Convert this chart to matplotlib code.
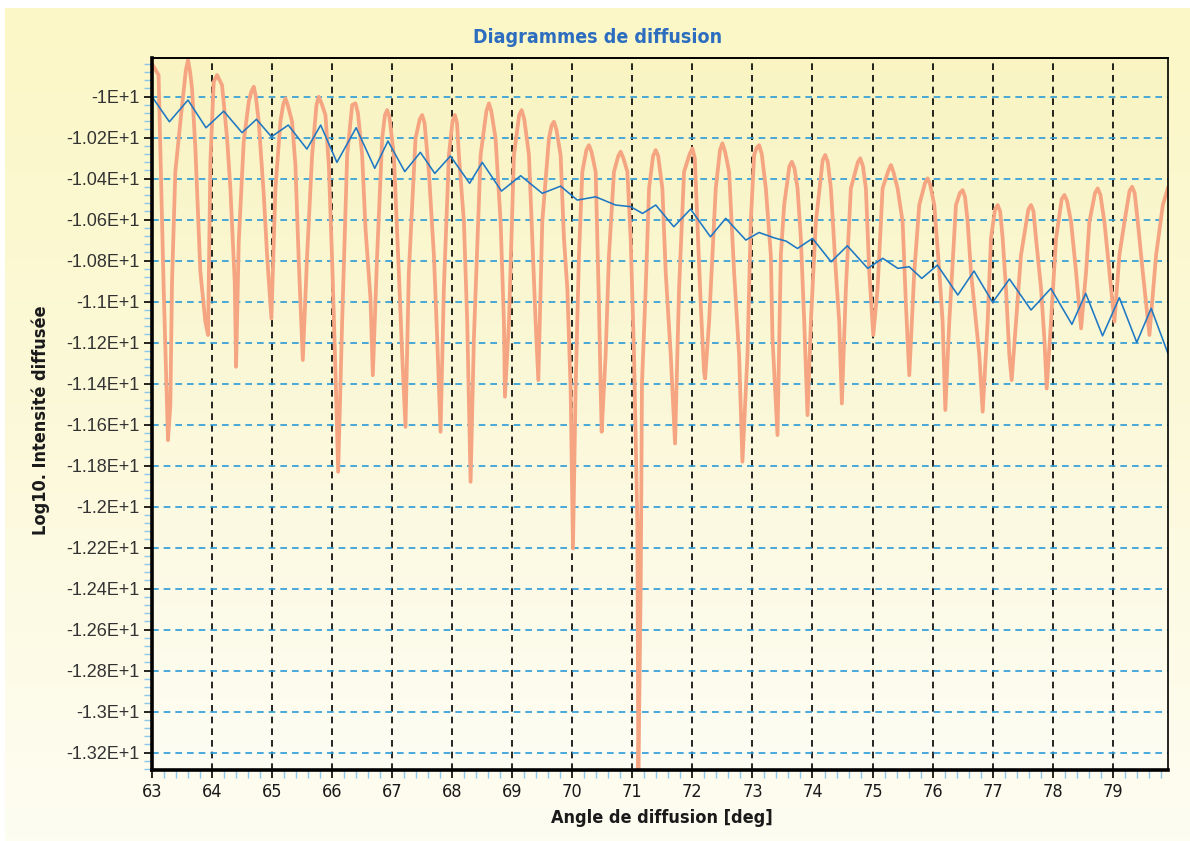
import numpy as np
import matplotlib
matplotlib.use("Agg")
import matplotlib.pyplot as plt
from matplotlib.colors import LinearSegmentedColormap
from matplotlib.ticker import MultipleLocator, FixedLocator, FixedFormatter
from matplotlib import font_manager as fm

# ---------------- data ----------------
orange_pts = [
    (63.00, -9.840), (63.11, -9.895), (63.195, -10.936), (63.267, -11.676), (63.306, -11.505), (63.334, -10.903),
    (63.389, -10.367), (63.473, -10.123), (63.565, -9.87), (63.601, -9.822), (63.635, -9.88), (63.667, -9.960),
    (63.723, -10.253), (63.806, -10.855), (63.889, -11.098), (63.934, -11.163),
    (63.973, -10.318), (64.028, -9.928), (64.084, -9.895), (64.167, -9.944), (64.251, -10.204), (64.306, -10.448),
    (64.378, -10.903), (64.401, -11.318),
    (64.445, -10.708), (64.528, -10.220), (64.612, -10.025), (64.655, -9.975), (64.695, -9.952), (64.73, -10.0),
    (64.778, -10.123), (64.862, -10.480), (64.917, -10.773), (64.989, -11.082),
    (65.056, -10.448), (65.139, -10.123), (65.185, -10.04), (65.223, -10.009), (65.26, -10.04), (65.334, -10.123),
    (65.389, -10.334), (65.445, -10.806), (65.512, -11.285),
    (65.584, -10.773), (65.667, -10.285), (65.74, -10.04), (65.778, -10.001), (65.82, -10.03), (65.889, -10.090),
    (65.945, -10.334), (66.001, -10.806), (66.056, -11.342), (66.101, -11.830),
    (66.167, -11.098), (66.251, -10.285), (66.334, -10.041), (66.389, -10.033), (66.43, -10.08), (66.500, -10.285),
    (66.556, -10.643), (66.639, -10.985), (66.678, -11.359),
    (66.750, -10.773), (66.834, -10.204), (66.88, -10.09), (66.917, -10.066), (66.955, -10.10), (67.028, -10.285),
    (67.111, -10.855), (67.167, -11.261), (67.222, -11.611),
    (67.278, -10.855), (67.389, -10.204), (67.46, -10.11), (67.500, -10.090), (67.54, -10.13), (67.611, -10.367),
    (67.695, -10.773), (67.750, -11.180), (67.806, -11.635),
    (67.861, -10.936), (67.945, -10.285), (68.005, -10.12), (68.045, -10.090), (68.08, -10.13), (68.111, -10.285),
    (68.195, -10.611), (68.250, -11.098), (68.306, -11.879),
    (68.361, -11.180), (68.473, -10.285), (68.57, -10.07), (68.611, -10.033), (68.65, -10.07), (68.722, -10.204),
    (68.806, -10.611), (68.861, -11.098), (68.878, -11.464),
    (68.945, -11.098), (69.028, -10.285), (69.115, -10.09), (69.156, -10.066), (69.20, -10.11), (69.278, -10.285),
    (69.334, -10.692), (69.389, -11.098), (69.434, -11.383),
    (69.500, -10.610), (69.611, -10.204), (69.655, -10.14), (69.694, -10.123), (69.735, -10.16), (69.805, -10.285),
    (69.861, -10.692), (69.917, -10.936), (69.972, -11.424), (70.011, -12.204),
    (70.055, -11.424), (70.111, -10.773), (70.167, -10.367), (70.235, -10.26), (70.278, -10.237), (70.32, -10.27),
    (70.389, -10.367), (70.444, -11.017), (70.472, -11.424), (70.489, -11.635),
    (70.555, -11.261), (70.611, -10.773), (70.694, -10.367), (70.765, -10.29), (70.805, -10.269), (70.85, -10.30),
    (70.917, -10.367), (70.972, -10.692), (71.028, -11.261), (71.083, -12.074), (71.100, -13.320),
    (71.140, -12.360), (71.160, -11.400), (71.222, -10.936), (71.278, -10.448), (71.345, -10.29), (71.389, -10.261),
    (71.43, -10.29), (71.500, -10.448), (71.555, -10.855), (71.639, -11.261), (71.711, -11.692),
    (71.778, -10.936), (71.861, -10.367), (71.955, -10.28), (72.000, -10.253), (72.04, -10.30), (72.083, -10.611),
    (72.139, -11.017), (72.194, -11.342), (72.211, -11.375),
    (72.278, -11.098), (72.389, -10.448), (72.46, -10.26), (72.500, -10.228), (72.545, -10.27), (72.611, -10.367),
    (72.694, -10.855), (72.778, -11.261), (72.833, -11.781),
    (72.917, -11.261), (72.972, -10.611), (73.028, -10.285), (73.07, -10.25), (73.112, -10.237), (73.155, -10.28),
    (73.223, -10.448), (73.306, -10.773), (73.334, -11.180), (73.417, -11.651),
    (73.473, -10.773), (73.528, -10.529), (73.615, -10.34), (73.656, -10.318), (73.70, -10.35), (73.751, -10.448),
    (73.806, -10.692), (73.862, -11.098), (73.917, -11.554),
    (73.973, -11.098), (74.056, -10.611), (74.17, -10.31), (74.212, -10.285), (74.255, -10.32), (74.306, -10.448),
    (74.389, -10.855), (74.445, -11.098), (74.489, -11.497),
    (74.556, -10.936), (74.639, -10.448), (74.755, -10.32), (74.795, -10.301), (74.84, -10.34), (74.889, -10.448),
    (74.945, -10.855), (75.012, -11.163),
    (75.084, -10.936), (75.167, -10.448), (75.265, -10.36), (75.306, -10.334), (75.35, -10.37), (75.417, -10.448),
    (75.501, -10.611), (75.556, -11.017), (75.612, -11.359),
    (75.695, -10.855), (75.778, -10.529), (75.875, -10.42), (75.917, -10.399), (75.96, -10.43), (76.028, -10.529),
    (76.112, -10.855), (76.167, -11.098), (76.212, -11.529),
    (76.278, -11.098), (76.389, -10.529), (76.455, -10.47), (76.500, -10.456), (76.54, -10.49), (76.584, -10.611),
    (76.639, -10.855), (76.722, -11.098), (76.778, -11.261), (76.834, -11.537),
    (76.917, -11.098), (76.972, -10.692), (77.04, -10.55), (77.084, -10.529), (77.125, -10.56), (77.167, -10.692),
    (77.222, -10.936), (77.278, -11.261), (77.317, -11.383),
    (77.389, -11.098), (77.472, -10.773), (77.595, -10.55), (77.639, -10.529), (77.68, -10.56), (77.722, -10.692),
    (77.806, -10.936), (77.861, -11.180), (77.900, -11.424),
    (77.972, -11.098), (78.056, -10.692), (78.15, -10.50), (78.195, -10.480), (78.24, -10.51), (78.306, -10.611),
    (78.389, -10.855), (78.473, -11.131),
    (78.556, -10.855), (78.611, -10.611), (78.705, -10.47), (78.750, -10.448), (78.795, -10.48), (78.861, -10.611),
    (78.945, -10.855), (79.028, -11.098),
    (79.111, -10.773), (79.195, -10.611), (79.28, -10.46), (79.322, -10.440), (79.365, -10.47), (79.417, -10.611),
    (79.500, -10.855), (79.611, -11.163),
    (79.722, -10.773), (79.834, -10.529), (79.917, -10.448),
]
orange_x = [p[0] for p in orange_pts]
orange_y = [p[1] for p in orange_pts]

blue_x = [63.00, 63.29, 63.60, 63.90, 64.195, 64.50, 64.74, 64.99, 65.27, 65.58, 65.81, 66.08, 66.40, 66.71, 66.93,
          67.21, 67.47, 67.71, 67.97, 68.29, 68.50, 68.82, 69.14, 69.50, 69.806, 70.083, 70.389, 70.72, 70.97, 71.17,
          71.39, 71.69, 71.97, 72.30, 72.555, 72.89, 73.11, 73.36, 73.56, 73.75, 74.00, 74.31, 74.58, 74.92, 75.17,
          75.42, 75.61, 75.82, 76.08, 76.42, 76.69, 77.00, 77.28, 77.64, 77.97, 78.32, 78.55, 78.83, 79.11, 79.40,
          79.64, 79.92]
blue_y = [-10.000, -10.123, -10.017, -10.152, -10.071, -10.176, -10.111, -10.196, -10.139, -10.256, -10.139, -10.321, -10.152, -10.350, -10.217,
          -10.366, -10.272, -10.375, -10.290, -10.423, -10.321, -10.461, -10.386, -10.472, -10.437, -10.505, -10.489, -10.529, -10.537, -10.570,
          -10.529, -10.635, -10.549, -10.684, -10.594, -10.700, -10.663, -10.689, -10.705, -10.741, -10.692, -10.806, -10.728, -10.838, -10.789,
          -10.838, -10.830, -10.887, -10.822, -10.968, -10.851, -11.004, -10.890, -11.041, -10.936, -11.111, -10.960, -11.167, -10.981, -11.199,
          -11.033, -11.253]

x_ticks = list(range(63, 80))
x_tick_labels = [str(v) for v in x_ticks]
y_ticks = [-10.0, -10.2, -10.4, -10.6, -10.8, -11.0, -11.2, -11.4, -11.6, -11.8,
           -12.0, -12.2, -12.4, -12.6, -12.8, -13.0, -13.2]
y_tick_labels = ["-1E+1", "-1.02E+1", "-1.04E+1", "-1.06E+1", "-1.08E+1", "-1.1E+1", "-1.12E+1",
                 "-1.14E+1", "-1.16E+1", "-1.18E+1", "-1.2E+1", "-1.22E+1", "-1.24E+1", "-1.26E+1",
                 "-1.28E+1", "-1.3E+1", "-1.32E+1"]

title = "Diagrammes de diffusion"
x_label = "Angle de diffusion [deg]"
y_label = "Log10. Intensité diffusée"

# ---------------- fonts ----------------
installed = {f.name for f in fm.fontManager.ttflist}
if "Liberation Sans Narrow" in installed:
    narrow_fam, narrow_stretch = ["Liberation Sans Narrow", "DejaVu Sans"], "normal"
elif "DejaVu Sans Condensed" in installed:
    narrow_fam, narrow_stretch = ["DejaVu Sans Condensed", "DejaVu Sans"], "normal"
else:
    narrow_fam, narrow_stretch = ["DejaVu Sans", "Liberation Sans"], "condensed"
plt.rcParams["font.family"] = ["Liberation Sans", "DejaVu Sans"]

fig = plt.figure(figsize=(11.9, 8.41), dpi=100)
fig.patch.set_facecolor("white")

# figure background gradient
bg = fig.add_axes([0.004, 0.0, 0.996, 0.991], zorder=-10)
bg.set_axis_off()
cm_fig = LinearSegmentedColormap.from_list("figbg", ["#FBF7C6", "#FCF9DA", "#FEFDF2"])
grad = np.linspace(0, 1, 256).reshape(-1, 1)
bg.imshow(grad, aspect="auto", cmap=cm_fig, extent=[0, 1, 0, 1], origin="upper")
bg.set_xlim(0, 1); bg.set_ylim(0, 1)

ax = fig.add_axes([0.1277, 0.0844, 0.9815 - 0.1277, 0.931 - 0.0844])
ax.set_facecolor("none")
cm_ax = LinearSegmentedColormap.from_list("axbg", ["#F9F4C2", "#FBF8DA", "#FEFDF4"])
ax.imshow(grad, aspect="auto", cmap=cm_ax, extent=[0, 1, 0, 1], origin="upper",
          transform=ax.transAxes, zorder=0)

ax.set_xlim(63.0, 79.92)
ax.set_ylim(-13.285, -9.812)

ax.plot(orange_x, orange_y, color="#F5A581", lw=2.7, zorder=3, solid_joinstyle="round")
ax.plot(blue_x, blue_y, color="#1F78C4", lw=1.15, zorder=4, solid_joinstyle="round")

# ticks
ax.xaxis.set_major_locator(FixedLocator(x_ticks))
ax.xaxis.set_major_formatter(FixedFormatter(x_tick_labels))
ax.xaxis.set_minor_locator(MultipleLocator(0.2))
ax.yaxis.set_major_locator(FixedLocator(y_ticks))
ax.yaxis.set_major_formatter(FixedFormatter(y_tick_labels))
ax.yaxis.set_minor_locator(MultipleLocator(0.04))

ax.tick_params(axis="both", which="major", direction="out", length=6, width=1.2, color="black")
ax.tick_params(axis="both", which="minor", direction="out", length=6, width=1.0, color="#8CC6EA")
ax.tick_params(axis="y", which="major", labelsize=13, labelcolor="#333333", pad=3)
ax.tick_params(axis="x", which="major", labelsize=13, labelcolor="#1a1a1a", pad=3)
for lbl in ax.get_xticklabels():
    lbl.set_family(narrow_fam)
    lbl.set_stretch(narrow_stretch)

# grid
ax.xaxis.grid(True, which="major", color="black", linestyle=(0, (4, 3)), lw=1.2, zorder=2)
ax.yaxis.grid(True, which="major", color="#2A9AD8", linestyle=(0, (4, 3)), lw=1.2, zorder=2)
ax.set_axisbelow(False)
for gl in ax.get_xgridlines() + ax.get_ygridlines():
    gl.set_zorder(2)

# spines
ax.spines["left"].set_linewidth(2.6)
ax.spines["bottom"].set_linewidth(2.6)
ax.spines["top"].set_linewidth(1.4)
ax.spines["right"].set_linewidth(1.2)
for s in ax.spines.values():
    s.set_color("black")
    s.set_zorder(6)

# texts
fig.text(0.502, 0.955, title, ha="center", va="center", fontsize=14, fontweight="bold",
         color="#2C6DC0", family=narrow_fam, stretch=narrow_stretch)
fig.text(0.556, 0.027, x_label, ha="center", va="center", fontsize=13, fontweight="bold",
         color="#1a1a1a", family=narrow_fam, stretch=narrow_stretch)
fig.text(0.034, 0.50, y_label, ha="center", va="center", fontsize=13, fontweight="bold",
         color="#1a1a1a", rotation=90, family=narrow_fam, stretch=narrow_stretch)

fig.savefig("out.png", dpi=100, facecolor=fig.get_facecolor())
